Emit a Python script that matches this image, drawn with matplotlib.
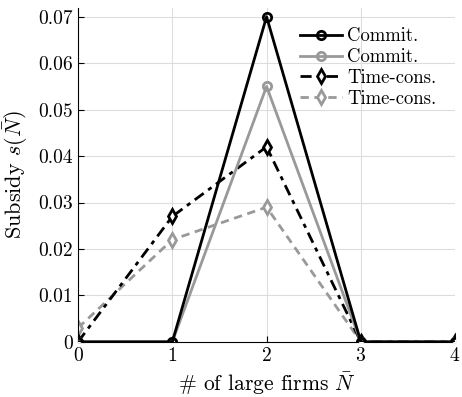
import matplotlib
matplotlib.use('Agg')
import matplotlib.pyplot as plt
import numpy as np

plt.rcParams['font.family'] = 'serif'
plt.rcParams['font.serif'] = ['cmr10', 'DejaVu Serif']
plt.rcParams['mathtext.fontset'] = 'cm'
plt.rcParams['axes.formatter.use_mathtext'] = True

n_firms = [0, 1, 2, 3, 4]
commit_black = [0, 0, 0.070, 0, 0]
commit_gray = [0, 0, 0.055, 0, 0]
timecons_black = [0, 0.027, 0.042, 0, 0]
timecons_gray = [0.003, 0.022, 0.029, 0, 0]
labels = ['Commit.', 'Commit.', 'Time-cons.', 'Time-cons.']

gray = '#999999'

fig = plt.figure(figsize=(4.62, 3.97), dpi=100)
ax = fig.add_axes([0.169, 0.139, 0.816, 0.841])

ax.plot(n_firms, commit_black, '-', color='black', lw=2, marker='o', ms=6,
        mfc='none', mew=2, label=labels[0], zorder=5)
ax.plot(n_firms, commit_gray, '-', color=gray, lw=2, marker='o', ms=6,
        mfc='none', mew=2, label=labels[1], zorder=4)
ax.plot(n_firms, timecons_black, '--', color='black', lw=2, marker='d', ms=7,
        mfc='white', mew=2, label=labels[2], zorder=3, dashes=(4, 2, 1.5, 2))
ax.plot(n_firms, timecons_gray, '--', color=gray, lw=2, marker='d', ms=7,
        mfc='white', mew=2, label=labels[3], zorder=2, dashes=(3, 2))

ax.set_xlim(0, 4)
ax.set_ylim(0, 0.0719)
ax.set_xticks(n_firms)
ax.set_yticks(np.arange(0, 0.071, 0.01))
ax.set_yticklabels(['0', '0.01', '0.02', '0.03', '0.04', '0.05', '0.06', '0.07'])
ax.grid(True, color='#dddddd', lw=0.8)
ax.set_axisbelow(True)
ax.tick_params(direction='in', labelsize=14, length=4)
for s in ['top', 'right']:
    ax.spines[s].set_visible(False)

ax.set_xlabel(r'# of large firms $\bar{N}$', fontsize=15.5)
ax.set_ylabel(r'Subsidy $s(\bar{N})$', fontsize=16, labelpad=6)
ax.legend(loc='upper right', frameon=False, fontsize=13.5, handlelength=2.2,
          handletextpad=0.3, labelspacing=0.15, bbox_to_anchor=(0.98, 0.975),
          borderaxespad=0.2)

fig.savefig('out.png', dpi=100)
